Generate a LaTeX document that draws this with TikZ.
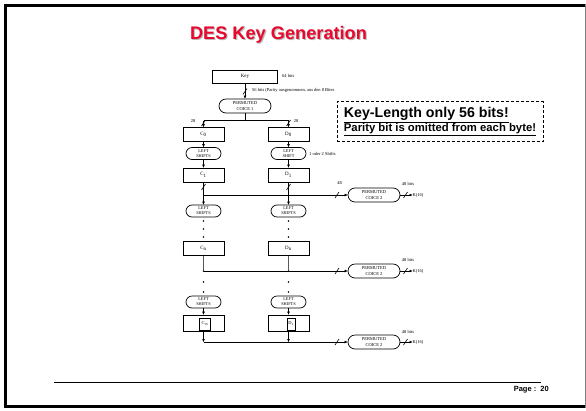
\documentclass[tikz,border=0pt]{standalone}
\usepackage{fontspec}
\setmainfont{Liberation Serif}
\newfontfamily\arialf{Liberation Sans}
\usetikzlibrary{arrows.meta,calc}
\definecolor{titlered}{RGB}{232,8,45}
\begin{document}
\begin{tikzpicture}[x=1pt,y=-1pt,
  box/.style={draw, line width=0.7pt, minimum width=41pt, minimum height=14pt, inner sep=0pt, font=\fontsize{5}{5}\selectfont},
  pill/.style={draw, line width=0.7pt, rounded corners=6pt, minimum width=35pt, minimum height=12pt, inner sep=0pt, align=center, font=\fontsize{4.3}{5}\selectfont},
  pc/.style={pill, minimum width=52pt, minimum height=14pt, rounded corners=7pt, font=\fontsize{4.5}{5.2}\selectfont},
  lbl/.style={inner sep=0pt, font=\fontsize{4.5}{4.5}\selectfont},
  arr/.style={-{Triangle[length=3pt,width=2.4pt]}, line width=0.6pt},
  ln/.style={line width=0.6pt},
  slash/.style={line width=0.6pt},
  dotn/.style={circle, fill, inner sep=0pt, minimum size=1.7pt},
]
\useasboundingbox (0,0) rectangle (586,410);
% page frame
\draw[line width=3pt] (4,5.5) -- (586,5.5);
\draw[line width=3pt] (5.5,4) -- (5.5,408);
\draw[line width=3pt] (4,406.5) -- (586,406.5);
\draw[line width=0.8pt, gray] (585.3,4) -- (585.3,408);
% title
\node[text=gray!55, font=\arialf\bfseries\fontsize{18.2}{18.2}\selectfont] at (279.6,36.2) {DES Key Generation};
\node[text=titlered, font=\arialf\bfseries\fontsize{18.2}{18.2}\selectfont] (title) at (278.5,35) {DES Key Generation};
% footer
\draw[line width=0.8pt] (54,382) -- (541,382);
\node[anchor=east, inner sep=0pt, font=\arialf\bfseries\fontsize{7.5}{7.5}\selectfont] (page) at (549,389.5) {Page :\ \ 20};

% note box
\node[draw, densely dashed, line width=0.8pt, minimum width=206pt, minimum height=40pt, align=left, inner sep=2pt] (note) at (440,121.5)
 {{\arialf\bfseries\fontsize{14.2}{16}\selectfont\underline{Key-Length only 56 bits!}}\\[-1pt]
  {\arialf\bfseries\fontsize{11.3}{13}\selectfont\underline{Parity bit is omitted from each byte!}}};

% key and PC1
\node[box, minimum width=65pt, minimum height=13pt] (key) at (245,76.5) {Key};
\node[lbl, anchor=west] (kbits) at (282,75.5) {64 bits};
\node[pc] (pc1) at (245,106) {PERMUTED\\COICE 1};
\draw[arr] (key.south) -- (pc1.north);
\draw[slash] (243,94.5) -- (247,88.5);
\node[lbl, anchor=west] (pbits) at (252,90) {56 bits (Parity ausgenommen, aus den 8 Bites};

\coordinate (j0) at (245,120.5);
\coordinate (j0l) at (203.5,120.5);
\coordinate (j0r) at (288.5,120.5);
\draw[ln] (pc1.south) -- (j0);
\draw[ln] (j0l) -- (j0r);
\node[lbl] (n28l) at (193,121) {28};
\node[lbl] (n28r) at (296,121) {28};

% column C / D
\node[box] (c0) at (203.5,134.5) {C\textsubscript{0}};
\node[box] (d0) at (288.5,134.5) {D\textsubscript{0}};
\draw[arr] (j0l) -- (c0.north);
\draw[arr] (j0r) -- (d0.north);
\draw[slash] (201.5,126) -- (205.5,120);
\draw[slash] (286.5,126) -- (290.5,120);

\node[pill] (lsc1) at (203.5,153.5) {LEFT\\SHIFTS};
\node[pill] (lsd1) at (288.5,153.5) {LEFT\\SHIFT};
\draw[arr] (c0) -- (lsc1);
\draw[arr] (d0) -- (lsd1);
\node[lbl, anchor=west] (shifts) at (309,154) {1 oder 2 Shifts};

\node[box] (c1) at (203.5,175) {C\textsubscript{1}};
\node[box] (d1) at (288.5,175) {D\textsubscript{1}};
\draw[arr] (lsc1) -- (c1);
\draw[arr] (lsd1) -- (d1);

\node[pill] (lsc2) at (203.5,211) {LEFT\\SHIFTS};
\node[pill] (lsd2) at (288.5,211) {LEFT\\SHIFTS};
\draw[arr] (c1) -- (lsc2);
\draw[arr] (d1) -- (lsd2);
\draw[slash] (201.5,190) -- (205.5,184);
\draw[slash] (286.5,190) -- (290.5,184);

% PC2 (first)
\coordinate (h1) at (203.5,195);
\node[pc] (pc2a) at (374,195) {PERMUTED\\COICE 2};
\draw[arr] (h1) -- (pc2a.west);
\draw[slash] (335,198) -- (339,192);
\node[lbl] (n48a) at (339.5,183.5) {48};
\node[lbl] (b48a) at (408,183.5) {48 bits};
\node[lbl, anchor=west] (k1) at (412.5,195) {K(16)};
\draw[arr] (pc2a.east) -- (k1.west);
\draw[slash] (403.5,198) -- (407.5,192);

% dots
\foreach \yy [count=\i] in {221,229,237}{
  \node[dotn] (dc\i) at (203.5,\yy) {};
  \node[dotn] (dd\i) at (288.5,\yy) {};
}

\node[box] (cn) at (203.5,248.5) {C\textsubscript{n}};
\node[box] (dn) at (288.5,248.5) {D\textsubscript{n}};

% PC2 (second)
\node[dotn] (hc2) at (203.5,271) {};
\node[dotn] (hd2) at (288.5,271) {};
\draw[ln, line width=0.9pt, gray!70!black] (cn.south) -- (hc2);
\draw[ln, line width=0.9pt, gray!70!black] (dn.south) -- (hd2);
\node[pc] (pc2b) at (374,271) {PERMUTED\\COICE 2};
\draw[arr] (hc2.center) -- (pc2b.west);
\draw[slash] (335,274) -- (339,268);
\node[lbl] (b48b) at (408,259.5) {48 bits};
\node[lbl, anchor=west] (k2) at (412.5,271) {K(16)};
\draw[arr] (pc2b.east) -- (k2.west);
\draw[slash] (403.5,274) -- (407.5,268);

\foreach \yy [count=\i] in {282,292}{
  \node[dotn] (ec\i) at (203.5,\yy) {};
  \node[dotn] (ed\i) at (288.5,\yy) {};
}

\node[pill] (lsc3) at (203.5,302) {LEFT\\SHIFTS};
\node[pill] (lsd3) at (288.5,302) {LEFT\\SHIFTS};

\node[box, minimum height=16pt] (c16) at (203.5,323) {};
\node[box, minimum height=16pt] (d16) at (288.5,323) {};
\node[draw, line width=0.6pt, minimum width=11pt, minimum height=12pt, inner sep=0pt, font=\fontsize{4.5}{4.5}\selectfont] (c16i) at (205,324) {C\textsubscript{16}};
\node[draw, line width=0.6pt, minimum width=8pt, minimum height=12pt, inner sep=0pt, font=\fontsize{4.5}{4.5}\selectfont] (d16i) at (291,324) {D\textsubscript{1}};
\draw[arr] (lsc3) -- (c16);
\draw[arr] (lsd3) -- (d16);

% PC2 (third)
\coordinate (hc3) at (203.5,342);
\coordinate (hd3) at (288.5,342);
\draw[arr] (c16.south) -- (hc3);
\draw[arr] (d16.south) -- (hd3);
\node[pc] (pc2c) at (374,342) {PERMUTED\\COICE 2};
\draw[arr] (hc3) -- (pc2c.west);
\draw[slash] (335,345) -- (339,339);
\node[lbl] (b48c) at (408,332) {48 bits};
\node[lbl, anchor=west] (k3) at (412.5,342) {K(16)};
\draw[arr] (pc2c.east) -- (k3.west);
\draw[slash] (403.5,345) -- (407.5,339);
\end{tikzpicture}
\end{document}
